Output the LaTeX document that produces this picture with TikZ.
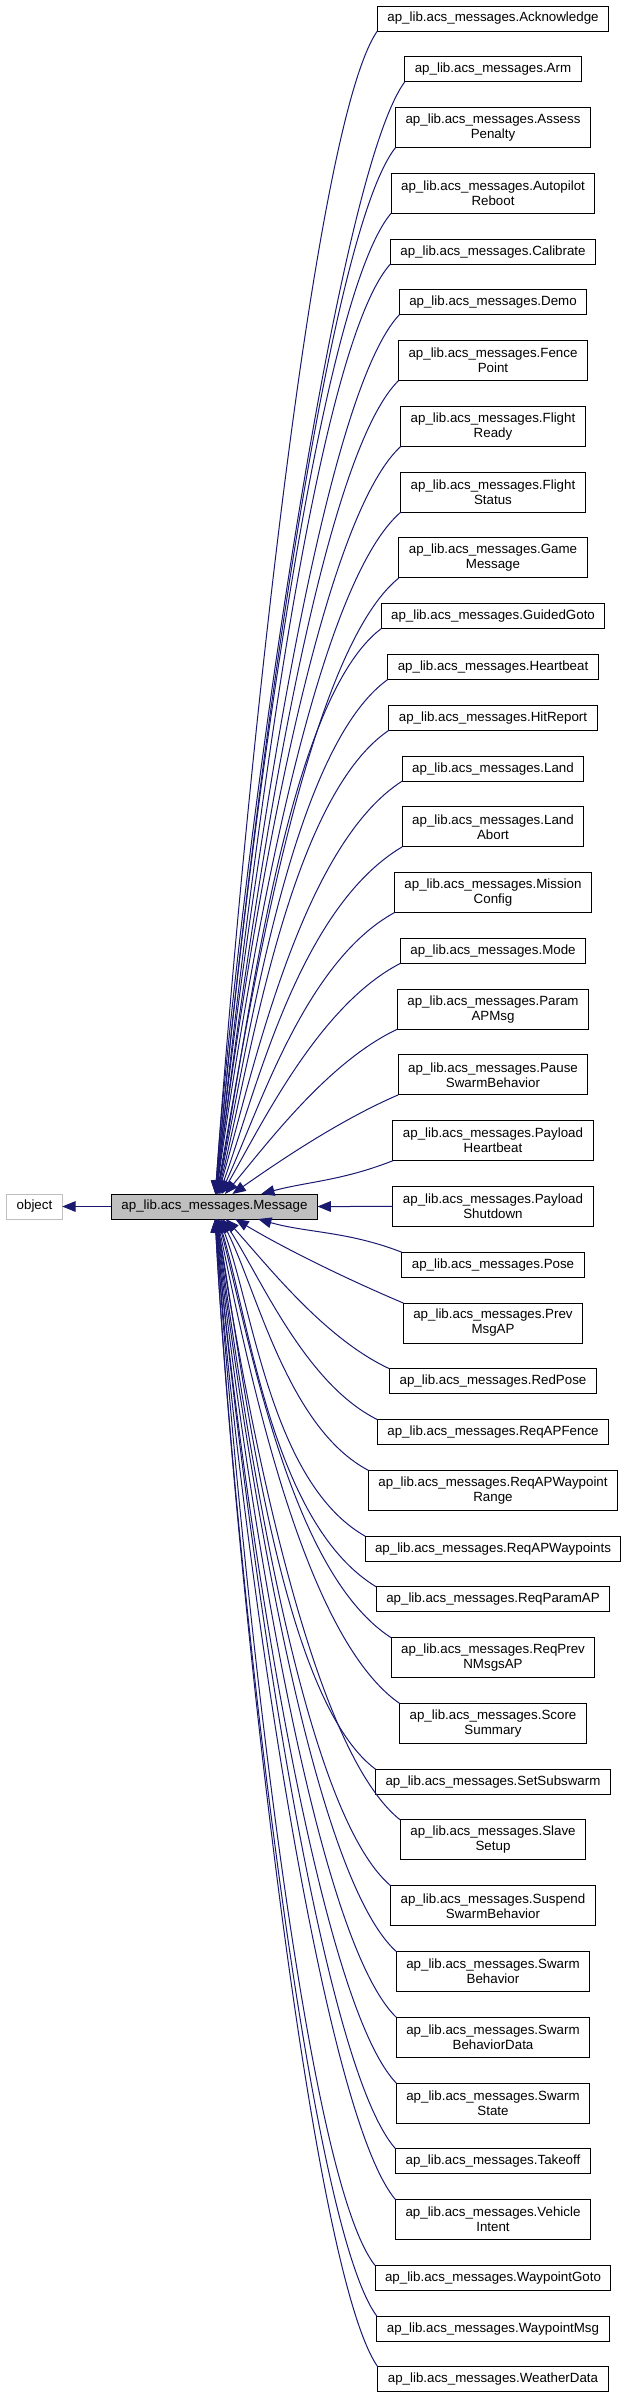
\documentclass[tikz,border=0pt]{standalone}
\usepackage{fontspec}
\setmainfont{Liberation Sans}
\usetikzlibrary{arrows.meta,positioning,calc}
\definecolor{navy}{HTML}{191970}
\definecolor{grey75}{HTML}{BFBFBF}
\newcommand{\apm}{ap\_lib.acs\_messages.}

\begin{document}
\begin{tikzpicture}[x=0.75pt,y=0.75pt,font={\fontsize{10}{11.25}\selectfont},
   node distance=19.33pt,
   kid/.style={draw=black,line width=0.75pt,fill=white,align=center,inner xsep=7.5pt,
               inner ysep=1pt,outer sep=0pt,minimum height=18.75pt},
   kidtwo/.style={minimum height=30pt},
   msgbox/.style={kid,fill=grey75},
   objbox/.style={kid,draw=grey75},
   inh/.style={{Triangle[length=10pt,width=8pt]}-,line width=0.75pt,navy}]
  \useasboundingbox (0,0) rectangle (627,-2399);
  % derived classes
  \node[kid] (k1) at (493,-18.5) {\apm Acknowledge};
  \node[kid,below=of k1] (k2) {\apm Arm};
  \node[kid,kidtwo,below=of k2] (k3) {\apm Assess\\Penalty};
  \node[kid,kidtwo,below=of k3] (k4) {\apm Autopilot\\Reboot};
  \node[kid,below=of k4] (k5) {\apm Calibrate};
  \node[kid,below=of k5] (k6) {\apm Demo};
  \node[kid,kidtwo,below=of k6] (k7) {\apm Fence\\Point};
  \node[kid,kidtwo,below=of k7] (k8) {\apm Flight\\Ready};
  \node[kid,kidtwo,below=of k8] (k9) {\apm Flight\\Status};
  \node[kid,kidtwo,below=of k9] (k10) {\apm Game\\Message};
  \node[kid,below=of k10] (k11) {\apm GuidedGoto};
  \node[kid,below=of k11] (k12) {\apm Heartbeat};
  \node[kid,below=of k12] (k13) {\apm HitReport};
  \node[kid,below=of k13] (k14) {\apm Land};
  \node[kid,kidtwo,below=of k14] (k15) {\apm Land\\Abort};
  \node[kid,kidtwo,below=of k15] (k16) {\apm Mission\\Config};
  \node[kid,below=of k16] (k17) {\apm Mode};
  \node[kid,kidtwo,below=of k17] (k18) {\apm Param\\APMsg};
  \node[kid,kidtwo,below=of k18] (k19) {\apm Pause\\SwarmBehavior};
  \node[kid,kidtwo,below=of k19] (k20) {\apm Payload\\Heartbeat};
  \node[kid,kidtwo,below=of k20] (k21) {\apm Payload\\Shutdown};
  \node[kid,below=of k21] (k22) {\apm Pose};
  \node[kid,kidtwo,below=of k22] (k23) {\apm Prev\\MsgAP};
  \node[kid,below=of k23] (k24) {\apm RedPose};
  \node[kid,below=of k24] (k25) {\apm ReqAPFence};
  \node[kid,kidtwo,below=of k25] (k26) {\apm ReqAPWaypoint\\Range};
  \node[kid,below=of k26] (k27) {\apm ReqAPWaypoints};
  \node[kid,below=of k27] (k28) {\apm ReqParamAP};
  \node[kid,kidtwo,below=of k28] (k29) {\apm ReqPrev\\NMsgsAP};
  \node[kid,kidtwo,below=of k29] (k30) {\apm Score\\Summary};
  \node[kid,below=of k30] (k31) {\apm SetSubswarm};
  \node[kid,kidtwo,below=of k31] (k32) {\apm Slave\\Setup};
  \node[kid,kidtwo,below=of k32] (k33) {\apm Suspend\\SwarmBehavior};
  \node[kid,kidtwo,below=of k33] (k34) {\apm Swarm\\Behavior};
  \node[kid,kidtwo,below=of k34] (k35) {\apm Swarm\\BehaviorData};
  \node[kid,kidtwo,below=of k35] (k36) {\apm Swarm\\State};
  \node[kid,below=of k36] (k37) {\apm Takeoff};
  \node[kid,kidtwo,below=of k37] (k38) {\apm Vehicle\\Intent};
  \node[kid,below=of k38] (k39) {\apm WaypointGoto};
  \node[kid,below=of k39] (k40) {\apm WaypointMsg};
  \node[kid,below=of k40] (k41) {\apm WeatherData};
  % base classes
  \node[msgbox] (msg) at (214.5,-1206.5) {\apm Message};
  \node[objbox] (obj) at (34.5,-1206.5) {object};
  \draw[inh] (obj) -- (msg);
  \draw[inh] (msg) -- (k21);
  \path (msg.center); \pgfgetlastxy{\mx}{\my}
  \foreach \i in {1,...,20}{
    \path (k\i.south west); \pgfgetlastxy{\kx}{\ky}
    \pgfmathsetmacro\ddx{(\kx-\mx)/100}
    \pgfmathsetmacro\ddy{(\ky-\my)/100}
    \pgfmathtruncatemacro\ain{atan2(\ddy,1.35/(1+\ddy/6))}
    \pgfmathsetmacro\lin{26*veclen(\ddx,\ddy)}
    \pgfmathsetmacro\aout{200+35*\ddy/8.8}
    \pgfmathsetmacro\lout{min(91,30*veclen(\ddx,\ddy))}
    \draw[inh] (msg.\ain) .. controls ($(msg.\ain)+(\ain:\lin pt)$)
      and ($(k\i.south west)+(\aout:\lout pt)$) .. (k\i.south west);
  }
  \foreach \i in {22,...,41}{
    \path (k\i.north west); \pgfgetlastxy{\kx}{\ky}
    \pgfmathsetmacro\ddx{(\kx-\mx)/100}
    \pgfmathsetmacro\ddy{(\my-\ky)/100}
    \pgfmathtruncatemacro\ain{360-atan2(\ddy,1.35/(1+\ddy/6))}
    \pgfmathsetmacro\lin{26*veclen(\ddx,\ddy)}
    \pgfmathsetmacro\aout{160-35*\ddy/8.8}
    \pgfmathsetmacro\lout{min(91,30*veclen(\ddx,\ddy))}
    \draw[inh] (msg.\ain) .. controls ($(msg.\ain)+(\ain:\lin pt)$)
      and ($(k\i.north west)+(\aout:\lout pt)$) .. (k\i.north west);
  }
\end{tikzpicture}
\end{document}
